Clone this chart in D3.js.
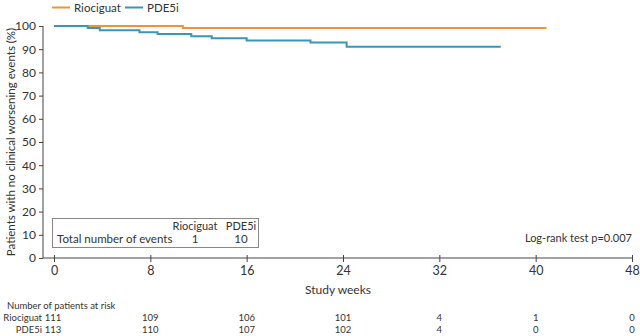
<!DOCTYPE html>
<html>
<head>
<meta charset="utf-8">
<script src="https://cdn.jsdelivr.net/npm/d3@7"></script>
<style>
  body { margin: 0; background: #fff; }
  svg text { font-family: Lato, "Open Sans", sans-serif; fill: #333; }
</style>
</head>
<body>
<figure id="km" style="margin:0"></figure>
<script>
// step curves: event times (weeks) and survival (%) after each step
const rioTimes = [0, 10.7];
const rioSurv = [100, 99.1];
const rioEnd = 40.9;

const pdeTimes = [0, 2.8, 3.8, 7.1, 8.6, 11.4, 13.1, 16.0, 21.3, 24.3];
const pdeSurv = [100, 99.1, 98.2, 97.3, 96.5, 95.6, 94.7, 93.8, 92.9, 91.1];
const pdeEnd = 37.1;

const xTicks = [0, 8, 16, 24, 32, 40, 48];
const yTicks = [0, 10, 20, 30, 40, 50, 60, 70, 80, 90, 100];

const riskRio = [111, 109, 106, 101, 4, 1, 0];
const riskPde = [113, 110, 107, 102, 4, 0, 0];

const groups = ["Riociguat", "PDE5i"];
const events = [1, 10];
const colors = ["#E8963A", "#3A95B7"];

const width = 640, height = 336;

const svg = d3.select("figure#km")
  .append("svg")
  .attr("width", width)
  .attr("height", height);

const x = d3.scaleLinear().domain([0, 48]).range([54, 632]);
const y = d3.scaleLinear().domain([0, 100]).range([258, 26]);

// Y axis
const yAxis = svg.append("g")
  .attr("transform", "translate(43,0)")
  .call(d3.axisLeft(y).tickValues(yTicks).tickSize(4).tickPadding(3));
yAxis.select(".domain").attr("d", "M0," + y(0) + "V" + y(100)).attr("stroke", "#444");
yAxis.selectAll(".tick line").attr("stroke", "#444");
yAxis.selectAll(".tick text").style("font-size", "12px").attr("fill", "#333");

// X axis, ticks cross the line
const xAxis = svg.append("g")
  .attr("transform", "translate(0," + y(0) + ")")
  .call(d3.axisBottom(x).tickValues(xTicks).tickSize(4).tickPadding(4));
xAxis.select(".domain").attr("d", "M43,0H633").attr("stroke", "#444");
xAxis.selectAll(".tick line").attr("y1", -3).attr("stroke", "#444");
xAxis.selectAll(".tick text").style("font-size", "12.5px").attr("fill", "#333");

svg.append("text")
  .attr("x", 338).attr("y", 294)
  .attr("text-anchor", "middle")
  .style("font-size", "12px")
  .text("Study weeks");

svg.append("text")
  .attr("transform", "translate(15," + y(50) + ") rotate(-90)")
  .attr("text-anchor", "middle")
  .style("font-size", "11.5px")
  .text("Patients with no clinical worsening events (%)");

// KM step lines
const line = d3.line()
  .x(d => x(d[0]))
  .y(d => y(d[1]))
  .curve(d3.curveStepAfter);

function pts(times, surv, end) {
  const p = times.map((t, i) => [t, surv[i]]);
  p.push([end, surv[surv.length - 1]]);
  return p;
}

svg.append("path")
  .datum(pts(rioTimes, rioSurv, rioEnd))
  .attr("d", line)
  .attr("fill", "none")
  .attr("stroke", colors[0])
  .attr("stroke-width", 2);

svg.append("path")
  .datum(pts(pdeTimes, pdeSurv, pdeEnd))
  .attr("d", line)
  .attr("fill", "none")
  .attr("stroke", colors[1])
  .attr("stroke-width", 2);

// legend
const legend = svg.append("g");
const legX = [52, 125];
groups.forEach((g, i) => {
  legend.append("line")
    .attr("x1", legX[i]).attr("x2", legX[i] + 18)
    .attr("y1", 7.5).attr("y2", 7.5)
    .attr("stroke", colors[i]).attr("stroke-width", 2);
  legend.append("text")
    .attr("x", legX[i] + 22).attr("y", 12)
    .style("font-size", "11.5px")
    .text(g);
});

// events box
svg.append("rect")
  .attr("x", 52.5).attr("y", 218.5)
  .attr("width", 206).attr("height", 29)
  .attr("fill", "#fff").attr("stroke", "#888").attr("stroke-width", 1);

const boxCols = [195, 241];
groups.forEach((g, i) => {
  svg.append("text")
    .attr("x", boxCols[i]).attr("y", 230)
    .attr("text-anchor", "middle")
    .style("font-size", "11px")
    .text(g);
  svg.append("text")
    .attr("x", boxCols[i]).attr("y", 243)
    .attr("text-anchor", "middle")
    .style("font-size", "11.5px")
    .text(events[i]);
});
svg.append("text")
  .attr("x", 57).attr("y", 243)
  .style("font-size", "11.5px")
  .text("Total number of events");

svg.append("text")
  .attr("x", 632).attr("y", 242)
  .attr("text-anchor", "end")
  .style("font-size", "11px")
  .text("Log-rank test p=0.007");

// number at risk table
svg.append("text")
  .attr("x", 7).attr("y", 309)
  .style("font-size", "9.5px")
  .text("Number of patients at risk");

[riskRio, riskPde].forEach((row, r) => {
  const yy = 321 + r * 12;
  svg.append("text")
    .attr("x", 42).attr("y", yy)
    .attr("text-anchor", "end")
    .style("font-size", "9.5px")
    .text(groups[r]);
  svg.selectAll(null)
    .data(row)
    .enter()
    .append("text")
    .attr("x", (d, i) => x(xTicks[i]) - (i === 0 ? 1 : 0))
    .attr("y", yy)
    .attr("text-anchor", "middle")
    .style("font-size", "9.5px")
    .text(d => d);
});
</script>
</body>
</html>
